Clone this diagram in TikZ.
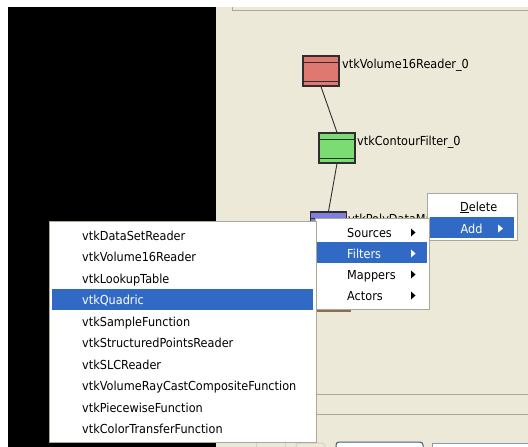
\documentclass[tikz,border=0pt]{standalone}
\usepackage{fontspec}
\setmainfont{DejaVu Sans}[FakeStretch=0.91]
\definecolor{xpbeige}{HTML}{ECE9D8}
\definecolor{xpedge}{HTML}{ACA899}
\definecolor{xpblue}{HTML}{316AC5}
\definecolor{nodeedge}{HTML}{2E2E2E}
\definecolor{readerfill}{HTML}{E07872}
\definecolor{filterfill}{HTML}{7CDC74}
\definecolor{mapperfill}{HTML}{7F7FDE}
\definecolor{actoredge}{HTML}{8C6E50}
\definecolor{btnedge}{HTML}{3D5A80}
\definecolor{fieldedge}{HTML}{7F9DB9}
\definecolor{tabedge}{HTML}{D6D2C2}
\tikzset{
  guifont/.style={font=\fontsize{12.4}{14}\selectfont},
  pipebox/.style={draw=nodeedge, line width=1.2pt, minimum width=36pt,
    minimum height=30pt, inner sep=0pt,
    path picture={\draw[nodeedge, line width=1pt]
      ([yshift=-6pt]path picture bounding box.north west) --
      ([yshift=-6pt]path picture bounding box.north east)
      ([yshift=5pt]path picture bounding box.south west) --
      ([yshift=5pt]path picture bounding box.south east);}},
  pipelabel/.style={guifont, anchor=base west, inner sep=0pt},
  pipeline/.style={nodeedge, line width=0.9pt},
  menubox/.style={fill=white, draw=xpedge, line width=1pt},
  hilite/.style={fill=xpblue},
  item/.style={guifont, anchor=base west, inner sep=0pt, text=black},
  itemsel/.style={item, text=white},
  subarrow/.style={fill=black},
  subarrowsel/.style={fill=white}
}
\begin{document}
\begin{tikzpicture}[x=1pt, y=-1pt]
\useasboundingbox (0,0) rectangle (528,447);
% window background
\fill[white] (0,0) rectangle (528,447);
\fill[xpbeige] (216,7) rectangle (528,447);
\fill[black] (8,7) rectangle (216,447);
% edge of the upper panel
\draw[xpedge, line width=1pt] (232,7) -- (232,10) -- (528,10);

% pipeline boxes
\node[pipebox, fill=readerfill] (reader) at (321,71) {};
\node[pipebox, fill=filterfill] (contour) at (337,148) {};
\node[pipebox, fill=mapperfill] (mapper) at (328.5,227) {};
\draw[pipeline] (reader.south) -- (contour.north);
\draw[pipeline] (contour.south) -- (mapper.north);
\node[pipelabel] (readerlbl) at (342,68) {vtkVolume16Reader\_0};
\node[pipelabel] (contourlbl) at (357,145) {vtkContourFilter\_0};
\node[pipelabel] (mapperlbl) at (348,223) {vtkPolyDataMapper\_0};
% bottom edge of the actor box below the mapper
\coordinate (actorL) at (317,311);
\coordinate (actorR) at (351,311);
\draw[actoredge, line width=1.6pt] (actorL) -- (actorR);

% panel separators and controls at the bottom
\draw[xpedge, line width=1pt] (216,394) -- (528,394);
\draw[xpedge, line width=1pt] (216,414) -- (528,414);
\draw[tabedge, line width=1pt] (256,447) -- (256,443);
\draw[tabedge, line width=1pt] (285,447) -- (285,443);
\draw[tabedge, line width=1pt, rounded corners=3pt] (296,452) -- (296,443) -- (325,443) -- (325,452);
\draw[btnedge, line width=1pt, fill=white, rounded corners=3pt] (336,442) rectangle (423,456);
\draw[fieldedge, line width=1pt, fill=white] (432,443) rectangle (535,456);

% node context menu
\draw[menubox] (427,193) rectangle (517,240);
\fill[hilite] (430,217) rectangle (514,238);
\node[item] (mdelete) at (460,211) {\underline{D}elete};
\node[itemsel] (madd) at (460.5,233) {Add};
\fill[subarrowsel] (498,224.5) -- (503,228.5) -- (498,232.5) -- cycle;

% Add submenu
\draw[menubox] (315,218) rectangle (429,309);
\fill[hilite] (317,242) rectangle (427,263);
\node[item] (msources) at (347,237) {Sources};
\node[itemsel] (mfilters) at (347,258) {Filters};
\node[item] (mmappers) at (347,279) {Mappers};
\node[item] (mactors) at (347,300) {Actors};
\fill[subarrow] (411,228.5) -- (415.5,232.5) -- (411,236.5) -- cycle;
\fill[subarrowsel] (411,249.5) -- (415.5,253.5) -- (411,257.5) -- cycle;
\fill[subarrow] (411,270.5) -- (415.5,274.5) -- (411,278.5) -- cycle;
\fill[subarrow] (411,291.5) -- (415.5,295.5) -- (411,299.5) -- cycle;

% Filters submenu
\draw[menubox] (49,221) rectangle (316,442);
\fill[hilite] (52,289) rectangle (313,310);
\node[item] (f0) at (82,240) {vtkDataSetReader};
\node[item] (f1) at (82,261.5) {vtkVolume16Reader};
\node[item] (f2) at (82,283) {vtkLookupTable};
\node[itemsel] (f3) at (82,304.5) {vtkQuadric};
\node[item] (f4) at (82,326) {vtkSampleFunction};
\node[item] (f5) at (82,347.5) {vtkStructuredPointsReader};
\node[item] (f6) at (82,369) {vtkSLCReader};
\node[item] (f7) at (82,390.5) {vtkVolumeRayCastCompositeFunction};
\node[item] (f8) at (82,412) {vtkPiecewiseFunction};
\node[item] (f9) at (82,433.5) {vtkColorTransferFunction};
\end{tikzpicture}
\end{document}
